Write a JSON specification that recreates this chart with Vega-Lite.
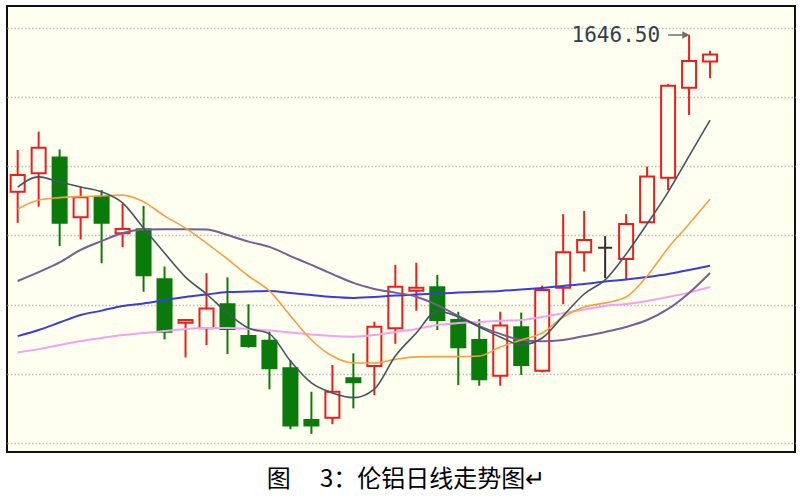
{
  "$schema": "https://vega.github.io/schema/vega-lite/v6.json",
  "width": 788,
  "height": 446,
  "autosize": {"type": "none"},
  "padding": {"left": 7, "top": 6, "right": 5, "bottom": 48},
  "background": "white",
  "config": {"view": {"fill": "#fffff0", "stroke": "#111111", "strokeWidth": 2}},
  "title": {"text": "图　 3：伦铝日线走势图↵", "orient": "bottom", "anchor": "middle", "offset": 16, "dx": 5, "fontSize": 24, "font": "Noto Sans CJK SC", "fontWeight": "normal", "color": "#000000"},
  "datasets": {
    "candles": [
      {"i": 0, "open": 1589.9, "high": 1605.0, "low": 1578.7, "close": 1596.0, "dir": "up", "ma5": 1591.6, "ma10": 1583.7, "ma20": 1557.7, "ma30": 1537.8, "ma60": 1531.9},
      {"i": 1, "open": 1596.6, "high": 1611.6, "low": 1584.5, "close": 1605.8, "dir": "up", "ma5": 1595.3, "ma10": 1586.9, "ma20": 1560.9, "ma30": 1540.0, "ma60": 1533.1},
      {"i": 2, "open": 1602.3, "high": 1605.2, "low": 1570.3, "close": 1578.7, "dir": "down", "ma5": 1593.4, "ma10": 1587.8, "ma20": 1564.4, "ma30": 1542.7, "ma60": 1534.6},
      {"i": 3, "open": 1580.7, "high": 1591.7, "low": 1572.7, "close": 1587.9, "dir": "up", "ma5": 1591.6, "ma10": 1588.2, "ma20": 1568.9, "ma30": 1545.4, "ma60": 1536.0},
      {"i": 4, "open": 1588.1, "high": 1590.5, "low": 1564.1, "close": 1578.7, "dir": "down", "ma5": 1589.9, "ma10": 1588.4, "ma20": 1572.1, "ma30": 1547.0, "ma60": 1537.1},
      {"i": 5, "open": 1574.9, "high": 1585.5, "low": 1569.9, "close": 1576.5, "dir": "up", "ma5": 1585.9, "ma10": 1588.7, "ma20": 1575.0, "ma30": 1548.7, "ma60": 1538.2},
      {"i": 6, "open": 1576.4, "high": 1584.8, "low": 1553.8, "close": 1559.8, "dir": "down", "ma5": 1576.8, "ma10": 1586.3, "ma20": 1576.3, "ma30": 1549.6, "ma60": 1538.9},
      {"i": 7, "open": 1558.3, "high": 1562.9, "low": 1536.6, "close": 1539.4, "dir": "down", "ma5": 1567.8, "ma10": 1581.2, "ma20": 1576.4, "ma30": 1550.8, "ma60": 1539.6},
      {"i": 8, "open": 1542.6, "high": 1544.0, "low": 1530.1, "close": 1543.6, "dir": "up", "ma5": 1559.1, "ma10": 1576.8, "ma20": 1576.4, "ma30": 1551.9, "ma60": 1540.4},
      {"i": 9, "open": 1540.6, "high": 1560.5, "low": 1534.6, "close": 1547.8, "dir": "up", "ma5": 1553.0, "ma10": 1571.4, "ma20": 1576.3, "ma30": 1552.8, "ma60": 1540.7},
      {"i": 10, "open": 1549.3, "high": 1559.0, "low": 1531.3, "close": 1540.4, "dir": "down", "ma5": 1546.1, "ma10": 1565.6, "ma20": 1574.3, "ma30": 1553.7, "ma60": 1540.7},
      {"i": 11, "open": 1537.8, "high": 1549.3, "low": 1533.6, "close": 1534.2, "dir": "down", "ma5": 1540.7, "ma10": 1559.5, "ma20": 1571.9, "ma30": 1553.9, "ma60": 1540.4},
      {"i": 12, "open": 1536.1, "high": 1539.4, "low": 1518.6, "close": 1526.2, "dir": "down", "ma5": 1538.6, "ma10": 1554.1, "ma20": 1570.0, "ma30": 1554.1, "ma60": 1539.8},
      {"i": 13, "open": 1526.2, "high": 1529.2, "low": 1504.2, "close": 1505.5, "dir": "down", "ma5": 1528.8, "ma10": 1545.1, "ma20": 1566.7, "ma30": 1553.4, "ma60": 1539.1},
      {"i": 14, "open": 1507.5, "high": 1517.7, "low": 1502.5, "close": 1505.5, "dir": "down", "ma5": 1520.9, "ma10": 1536.4, "ma20": 1563.5, "ma30": 1552.6, "ma60": 1538.4},
      {"i": 15, "open": 1508.3, "high": 1527.4, "low": 1506.0, "close": 1517.7, "dir": "up", "ma5": 1517.3, "ma10": 1530.6, "ma20": 1560.2, "ma30": 1551.9, "ma60": 1537.8},
      {"i": 16, "open": 1522.6, "high": 1531.6, "low": 1511.7, "close": 1521.1, "dir": "down", "ma5": 1515.6, "ma10": 1528.1, "ma20": 1557.0, "ma30": 1551.6, "ma60": 1537.6},
      {"i": 17, "open": 1527.0, "high": 1543.0, "low": 1516.5, "close": 1541.2, "dir": "up", "ma5": 1518.7, "ma10": 1528.1, "ma20": 1554.8, "ma30": 1551.9, "ma60": 1538.2},
      {"i": 18, "open": 1540.6, "high": 1563.5, "low": 1535.0, "close": 1555.6, "dir": "up", "ma5": 1530.6, "ma10": 1529.4, "ma20": 1553.5, "ma30": 1552.5, "ma60": 1539.3},
      {"i": 19, "open": 1554.2, "high": 1564.3, "low": 1547.0, "close": 1555.3, "dir": "up", "ma5": 1538.9, "ma10": 1530.3, "ma20": 1552.0, "ma30": 1552.8, "ma60": 1540.4},
      {"i": 20, "open": 1555.4, "high": 1559.9, "low": 1540.0, "close": 1543.6, "dir": "down", "ma5": 1546.9, "ma10": 1530.4, "ma20": 1549.0, "ma30": 1553.2, "ma60": 1541.8},
      {"i": 21, "open": 1543.6, "high": 1546.6, "low": 1520.1, "close": 1533.8, "dir": "down", "ma5": 1544.7, "ma10": 1530.4, "ma20": 1545.1, "ma30": 1553.5, "ma60": 1542.5},
      {"i": 22, "open": 1536.4, "high": 1543.9, "low": 1519.9, "close": 1522.2, "dir": "down", "ma5": 1541.1, "ma10": 1530.6, "ma20": 1541.4, "ma30": 1553.8, "ma60": 1542.9},
      {"i": 23, "open": 1523.5, "high": 1546.6, "low": 1519.9, "close": 1541.6, "dir": "up", "ma5": 1537.5, "ma10": 1533.9, "ma20": 1538.6, "ma30": 1554.1, "ma60": 1543.3},
      {"i": 24, "open": 1541.0, "high": 1546.3, "low": 1523.8, "close": 1527.4, "dir": "down", "ma5": 1534.6, "ma10": 1536.4, "ma20": 1536.4, "ma30": 1554.6, "ma60": 1543.6},
      {"i": 25, "open": 1525.3, "high": 1556.0, "low": 1524.7, "close": 1554.4, "dir": "up", "ma5": 1537.1, "ma10": 1538.9, "ma20": 1535.9, "ma30": 1555.2, "ma60": 1544.7},
      {"i": 26, "open": 1555.3, "high": 1581.8, "low": 1549.3, "close": 1568.1, "dir": "up", "ma5": 1545.1, "ma10": 1544.7, "ma20": 1536.4, "ma30": 1555.9, "ma60": 1546.1},
      {"i": 27, "open": 1568.1, "high": 1583.0, "low": 1561.1, "close": 1572.5, "dir": "up", "ma5": 1553.0, "ma10": 1548.3, "ma20": 1537.8, "ma30": 1556.6, "ma60": 1547.4},
      {"i": 28, "open": 1569.7, "high": 1573.9, "low": 1558.7, "close": 1569.7, "dir": "flat", "ma5": 1558.1, "ma10": 1549.8, "ma20": 1539.3, "ma30": 1557.5, "ma60": 1548.7},
      {"i": 29, "open": 1565.6, "high": 1581.8, "low": 1558.3, "close": 1578.3, "dir": "up", "ma5": 1567.4, "ma10": 1551.9, "ma20": 1541.1, "ma30": 1558.2, "ma60": 1549.4},
      {"i": 30, "open": 1578.9, "high": 1599.0, "low": 1578.5, "close": 1595.4, "dir": "up", "ma5": 1578.3, "ma10": 1559.5, "ma20": 1543.6, "ma30": 1559.1, "ma60": 1550.5},
      {"i": 31, "open": 1595.0, "high": 1628.8, "low": 1590.5, "close": 1628.2, "dir": "up", "ma5": 1589.8, "ma10": 1569.6, "ma20": 1547.6, "ma30": 1560.2, "ma60": 1551.9},
      {"i": 32, "open": 1627.5, "high": 1646.5, "low": 1617.6, "close": 1637.1, "dir": "up", "ma5": 1602.8, "ma10": 1578.3, "ma20": 1553.4, "ma30": 1561.7, "ma60": 1553.5},
      {"i": 33, "open": 1636.9, "high": 1640.8, "low": 1630.9, "close": 1639.5, "dir": "up", "ma5": 1615.8, "ma10": 1587.3, "ma20": 1560.6, "ma30": 1563.2, "ma60": 1555.5}
    ]
  },
  "data": {"name": "candles"},
  "layer": [
    {
      "mark": {"type": "rule", "strokeWidth": 2, "clip": true},
      "encoding": {
        "x": {"field": "i", "type": "quantitative", "scale": {"domain": [-0.27, 36.81], "nice": false, "zero": false}, "axis": null},
        "y": {"field": "low", "type": "quantitative", "scale": {"domain": [1495.96, 1656.97], "nice": false, "zero": false},
              "axis": {"values": [1649.14, 1624.14, 1599.14, 1574.14, 1549.14, 1524.14, 1499.14], "grid": true, "gridColor": "#bcbcbc", "gridDash": [1.5, 2], "gridWidth": 1.5, "labels": false, "ticks": false, "domain": false, "title": null}},
        "y2": {"field": "high"},
        "color": {"field": "dir", "type": "nominal", "scale": {"domain": ["up", "down", "flat"], "range": ["#ee1c1c", "#0a7a0a", "#303030"]}, "legend": null}
      }
    },
    {
      "mark": {"type": "bar", "size": 14, "strokeWidth": 2, "clip": true},
      "encoding": {
        "x": {"field": "i", "type": "quantitative", "scale": {"domain": [-0.27, 36.81], "nice": false, "zero": false}, "axis": null},
        "y": {"field": "open", "type": "quantitative", "scale": {"domain": [1495.96, 1656.97], "nice": false, "zero": false}},
        "y2": {"field": "close"},
        "fill": {"field": "dir", "type": "nominal", "scale": {"domain": ["up", "down", "flat"], "range": ["#fffff0", "#0a7a0a", "#fffff0"]}, "legend": null},
        "stroke": {"field": "dir", "type": "nominal", "scale": {"domain": ["up", "down", "flat"], "range": ["#ee1c1c", "#0a7a0a", "#303030"]}, "legend": null}
      }
    },
    {
      "mark": {"type": "line", "color": "#f2a2ee", "strokeWidth": 2, "interpolate": "monotone", "clip": true},
      "encoding": {
        "x": {"field": "i", "type": "quantitative"},
        "y": {"field": "ma60", "type": "quantitative"}
      }
    },
    {
      "mark": {"type": "line", "color": "#3b3be0", "strokeWidth": 2, "interpolate": "monotone", "clip": true},
      "encoding": {
        "x": {"field": "i", "type": "quantitative"},
        "y": {"field": "ma30", "type": "quantitative"}
      }
    },
    {
      "mark": {"type": "line", "color": "#7a5c98", "strokeWidth": 2, "interpolate": "monotone", "clip": true},
      "encoding": {
        "x": {"field": "i", "type": "quantitative"},
        "y": {"field": "ma20", "type": "quantitative"}
      }
    },
    {
      "mark": {"type": "line", "color": "#f5a040", "strokeWidth": 1.6, "interpolate": "monotone", "clip": true},
      "encoding": {
        "x": {"field": "i", "type": "quantitative"},
        "y": {"field": "ma10", "type": "quantitative"}
      }
    },
    {
      "mark": {"type": "line", "color": "#415566", "strokeWidth": 1.6, "interpolate": "monotone", "clip": true},
      "encoding": {
        "x": {"field": "i", "type": "quantitative"},
        "y": {"field": "ma5", "type": "quantitative"}
      }
    },
    {
      "transform": [{"filter": "datum.i == 32"}],
      "mark": {"type": "point", "shape": "M-21,0L-5,0M-6,-2.5L-1,0L-6,2.5Z", "size": 4, "filled": true, "fill": "#707070", "stroke": "#707070", "strokeWidth": 1.5, "opacity": 1},
      "encoding": {
        "x": {"field": "i", "type": "quantitative"},
        "y": {"field": "high", "type": "quantitative"}
      }
    },
    {
      "transform": [{"filter": "datum.i == 32"}],
      "mark": {"type": "text", "align": "right", "baseline": "middle", "dx": -29, "dy": 1, "font": "DejaVu Sans Mono", "fontSize": 21, "color": "#2f3f4f"},
      "encoding": {
        "x": {"field": "i", "type": "quantitative"},
        "y": {"field": "high", "type": "quantitative"},
        "text": {"field": "high", "type": "quantitative", "format": ".2f"}
      }
    }
  ]
}
